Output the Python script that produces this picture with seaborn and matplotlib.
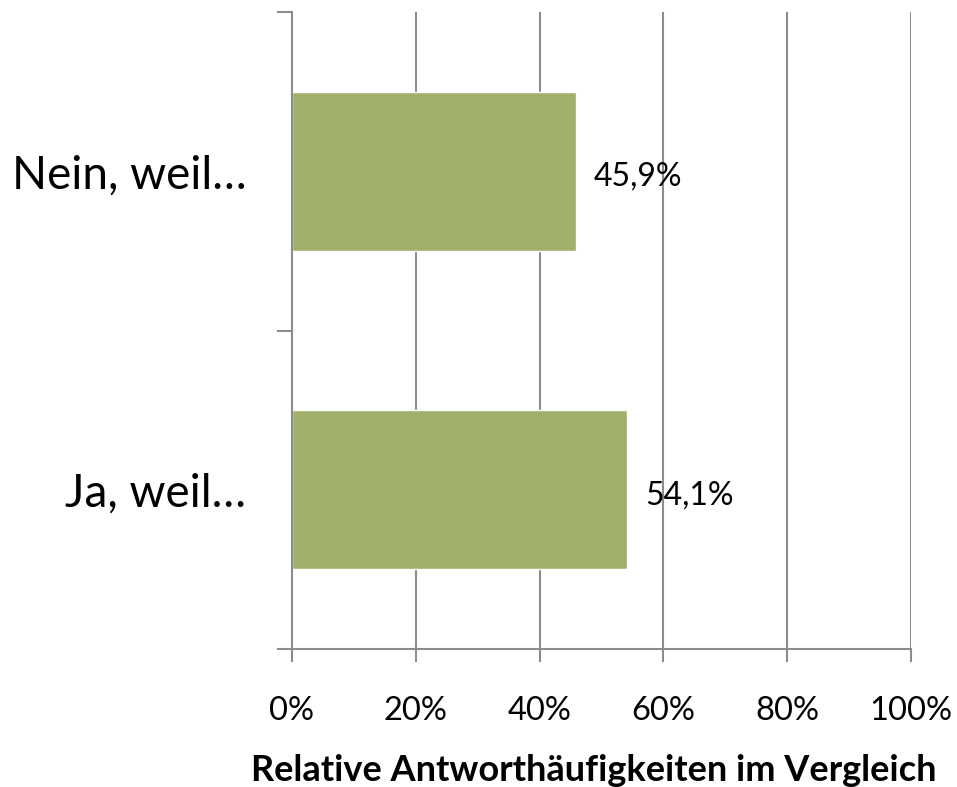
import matplotlib
matplotlib.use("Agg")
import matplotlib.pyplot as plt
import seaborn as sns
import pandas as pd
from matplotlib.ticker import FixedLocator

categories = ["Nein, weil…", "Ja, weil…"]
values = [45.9, 54.1]
value_labels = ["45,9%", "54,1%"]
xticks = [0, 20, 40, 60, 80, 100]
xtick_labels = ["0%", "20%", "40%", "60%", "80%", "100%"]
xlabel = "Relative Antworthäufigkeiten im Vergleich"

sns.set_theme(style="white")
plt.rcParams["font.family"] = ["Lato", "DejaVu Sans"]
plt.rcParams["text.color"] = "black"
plt.rcParams["axes.labelcolor"] = "black"
plt.rcParams["xtick.color"] = "black"
plt.rcParams["ytick.color"] = "black"

df = pd.DataFrame({"cat": categories, "val": values})

fig = plt.figure(figsize=(9.57, 7.87), dpi=100)
ax = fig.add_axes([292/957, 1-649/787, (911-292)/957, (649-12)/787])

grid_c = "#8c8c8c"
for xv in xticks[1:]:
    ax.axvline(xv, color=grid_c, lw=1.5, zorder=0)

sns.barplot(data=df, x="val", y="cat", order=categories, orient="h",
            color="#A0B06A", saturation=1, width=0.5, ax=ax, zorder=2)

ax.set_xlim(0, 100)
ax.set_ylim(1.5, -0.5)
ax.set_xticks(xticks)
ax.set_xticklabels(xtick_labels, fontsize=23.5)
ax.tick_params(axis="x", bottom=True, length=9, width=1.5, color=grid_c,
               labelcolor="black", pad=25, direction="out")
ax.set_yticks([0, 1])
ax.set_yticklabels(categories, fontsize=33)
ax.tick_params(axis="y", which="major", left=True, length=0, pad=33, labelcolor="black")
ax.yaxis.set_minor_locator(FixedLocator([-0.5, 0.5, 1.5]))
ax.tick_params(axis="y", which="minor", left=True, length=11, width=1.5,
               color=grid_c, direction="out")

for s in ["top", "right"]:
    ax.spines[s].set_visible(False)
for s in ["left", "bottom"]:
    ax.spines[s].set_color(grid_c)
    ax.spines[s].set_linewidth(1.5)

ax.set_ylabel("")
ax.set_xlabel(xlabel, fontsize=26, fontweight="bold", color="black")
ax.xaxis.set_label_coords(0.487, -0.19)
ax.xaxis.label.set_va("center")

for i, (v, lab) in enumerate(zip(values, value_labels)):
    ax.annotate(lab, (v, i), xytext=(13, -4), textcoords="offset points",
                va="center", ha="left", fontsize=23, color="black", zorder=3)

fig.savefig("out.png", dpi=100)
